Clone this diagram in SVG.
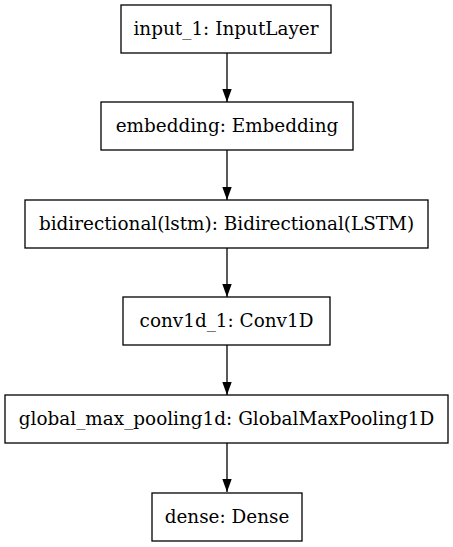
<svg xmlns="http://www.w3.org/2000/svg" width="453" height="547" viewBox="0 0 453 547">
<defs>
<style>
.box{fill:#fff;stroke:#000;stroke-width:1.3}
.lbl{font-family:"DejaVu Serif",serif;font-size:18.4px;fill:#000;text-anchor:middle}
.edge{stroke:#000;stroke-width:1.3;fill:none}
</style>
<marker id="ah" markerWidth="13" markerHeight="10" viewBox="0 0 13 10" refX="13" refY="5" orient="auto" markerUnits="userSpaceOnUse">
<path d="M0,0.3 L13,5 L0,9.7 Z" fill="#000"/>
</marker>
</defs>
<rect width="453" height="547" fill="#fff"/>
<g id="connectors">
<line class="edge" x1="227" y1="53" x2="227" y2="102" marker-end="url(#ah)"/>
<line class="edge" x1="227" y1="150" x2="227" y2="200" marker-end="url(#ah)"/>
<line class="edge" x1="227" y1="248" x2="227" y2="297" marker-end="url(#ah)"/>
<line class="edge" x1="227" y1="345" x2="227" y2="395" marker-end="url(#ah)"/>
<line class="edge" x1="227" y1="443" x2="227" y2="492" marker-end="url(#ah)"/>
</g>
<g id="input_1"><rect class="box" x="121" y="5" width="210" height="48"/><text class="lbl" x="226" y="35">input_1: InputLayer</text></g>
<g id="embedding"><rect class="box" x="101" y="102" width="252" height="48"/><text class="lbl" x="227" y="132">embedding: Embedding</text></g>
<g id="bidirectional"><rect class="box" x="25" y="200" width="403" height="48"/><text class="lbl" x="226.5" y="230">bidirectional(lstm): Bidirectional(LSTM)</text></g>
<g id="conv1d_1"><rect class="box" x="123" y="297" width="207" height="48"/><text class="lbl" x="226.5" y="327">conv1d_1: Conv1D</text></g>
<g id="global_max_pooling1d"><rect class="box" x="5" y="395" width="443" height="48"/><text class="lbl" x="226.5" y="425">global_max_pooling1d: GlobalMaxPooling1D</text></g>
<g id="dense"><rect class="box" x="152" y="493" width="150" height="48"/><text class="lbl" x="227" y="523">dense: Dense</text></g>
</svg>
